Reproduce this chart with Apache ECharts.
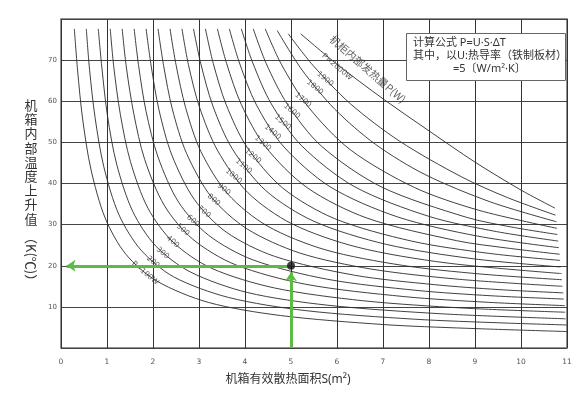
<!DOCTYPE html>
<html>
<head>
<meta charset="utf-8">
<script src="https://cdn.jsdelivr.net/npm/echarts@6/dist/echarts.min.js"></script>
<style>
  html, body { margin: 0; padding: 0; background: #fff; }
  #chart { width: 586px; height: 399px; }
</style>
</head>
<body>
<div id="chart"></div>
<script>
// 机柜内部发热量 P (W)，每条曲线读自原图 [S(m²), ΔT(K)]
const powers = [100, 200, 300, 400, 500, 600, 700, 800, 900, 1000,
                1100, 1200, 1300, 1400, 1500, 1600, 1700, 1800, 1900, 2000];

const p100 = [[0.29,77.6],[0.36,67.6],[0.47,55.7],[0.65,43.5],[0.96,31.6],[1.41,22.8],[2.08,16.3],[3.2,11.1],[4.77,7.9],[7.01,5.7],[8.8,4.8],[11,4.0]];
const p200 = [[0.55,77.6],[0.62,67.8],[0.74,56.1],[0.93,44.1],[1.26,32.4],[1.74,23.8],[2.45,17.3],[3.64,12.3],[5.31,9.1],[7.69,7.0],[9.59,6.1],[10.99,5.6]];
const p300 = [[0.81,77.6],[0.89,68.0],[1.01,56.5],[1.21,44.7],[1.56,33.2],[2.06,24.8],[2.81,18.5],[4.05,13.5],[5.8,10.4],[8.3,8.3],[10.97,7.1]];
const p400 = [[1.07,77.6],[1.15,68.1],[1.29,56.8],[1.51,45.3],[1.89,34.0],[2.44,25.7],[3.27,19.4],[4.64,14.6],[6.56,11.5],[8.76,9.7],[10.96,8.7]];
const p500 = [[1.33,77.6],[1.42,68.3],[1.58,57.1],[1.82,45.8],[2.25,34.6],[2.86,26.5],[3.78,20.3],[5.32,15.5],[7.46,12.5],[9.3,11.1],[10.95,10.3]];
const p600 = [[1.59,77.6],[1.69,68.4],[1.85,57.5],[2.11,46.4],[2.56,35.4],[3.21,27.4],[4.18,21.4],[5.8,16.7],[7.74,14.0],[9.35,12.7],[10.93,11.9]];
const p700 = [[1.85,77.6],[1.96,68.6],[2.13,57.9],[2.41,46.9],[2.9,36.1],[3.59,28.2],[4.64,22.3],[6.38,17.7],[8.12,15.4],[9.52,14.2],[10.92,13.4]];
const p800 = [[2.11,77.6],[2.23,68.7],[2.42,58.1],[2.73,47.3],[3.27,36.7],[4.04,29.0],[5.19,23.1],[6.74,19.2],[8.66,16.7],[10.9,15.0]];
const p900 = [[2.37,77.6],[2.5,68.9],[2.71,58.4],[3.04,47.8],[3.63,37.4],[4.48,29.7],[5.74,23.9],[7.42,20.1],[9.11,18.0],[10.89,16.6]];
const p1000 = [[2.63,77.6],[2.77,68.9],[3.01,58.6],[3.4,48.1],[4.06,37.8],[5.02,30.2],[6.45,24.5],[8.37,20.7],[10.88,18.1]];
const p1100 = [[2.88,77.6],[3.04,69.1],[3.3,58.9],[3.72,48.5],[4.45,38.3],[5.5,30.8],[7.07,25.2],[8.96,21.7],[10.86,19.7]];
const p1200 = [[3.14,77.6],[3.31,69.2],[3.59,59.2],[4.04,48.9],[4.82,38.9],[5.94,31.5],[7.62,26.0],[9.31,23.0],[10.85,21.3]];
const p1300 = [[3.4,77.6],[3.6,69.2],[3.92,59.2],[4.44,49.0],[5.35,39.0],[6.65,31.6],[8.6,26.1],[9.7,24.3],[10.84,22.8]];
const p1400 = [[3.66,77.6],[3.88,69.3],[4.24,59.3],[4.83,49.1],[5.85,39.2],[7.31,31.9],[9.06,27.2],[10.82,24.4]];
const p1500 = [[3.92,77.6],[4.17,69.3],[4.57,59.4],[5.23,49.2],[6.37,39.3],[8.0,32.0],[9.47,28.3],[10.81,26.0]];
const p1600 = [[4.18,77.6],[4.46,69.2],[4.92,59.3],[5.66,49.1],[6.96,39.2],[8.81,31.8],[9.8,29.4],[10.79,27.6]];
const p1700 = [[4.44,77.6],[4.79,69.0],[5.37,58.7],[6.29,48.2],[7.69,39.0],[9.08,33.5],[10.78,29.1]];
const p1800 = [[4.7,77.2],[5.24,67.6],[5.95,58.1],[6.84,49.5],[7.91,42.2],[9.34,35.5],[10.77,30.7]];
const p1900 = [[4.94,76.4],[5.48,68.7],[6.29,59.4],[7.36,50.3],[8.71,41.6],[9.7,36.6],[10.75,32.3]];
const p2000 = [[5.21,76.4],[6.0,69.0],[7.0,60.6],[8.0,52.8],[9.0,45.2],[10.0,38.4],[10.74,34.0]];

const curves = [p100, p200, p300, p400, p500, p600, p700, p800, p900, p1000,
                p1100, p1200, p1300, p1400, p1500, p1600, p1700, p1800, p1900, p2000];

// 曲线上的标注
const labelTexts = ['P=100W', '200', '300', '400', '500', '600', '700', '800', '900', '1000',
                    '1100', '1200', '1300', '1400', '1500', '1600', '1700', '1800', '1900', 'P=2000W'];
const labelPoints = [[1.83,18.2],[2.0,20.9],[2.21,23.1],[2.43,25.8],[2.65,28.7],[2.87,30.9],[3.11,33.1],[3.32,36.0],[3.54,38.6],[3.75,41.8],
                     [3.97,44.2],[4.17,46.7],[4.39,49.8],[4.6,52.5],[4.82,54.9],[5.02,57.6],[5.26,60.3],[5.52,63.4],[5.74,65.4],[6.0,68.3]];

// 查图示例：S=5 m² → ΔT=20 K
const examplePoint = [5, 20];

const xTicks = [0, 1, 2, 3, 4, 5, 6, 7, 8, 9, 10, 11];
const yTicks = [10, 20, 30, 40, 50, 60, 70];

const chart = echarts.init(document.getElementById('chart'));

const lineColor = '#2b2b2b';
const green = '#5cbb45';
const cjk = '"Noto Sans CJK SC", sans-serif';
const mixed = '"Noto Sans", "Noto Sans CJK SC", sans-serif';

const curveSeries = curves.map((pts, i) => ({
  name: powers[i] + 'W',
  type: 'line',
  data: pts,
  smooth: 0.3,
  symbol: 'none',
  silent: true,
  z: 2,
  lineStyle: {color: lineColor, width: 0.9}
}));

chart.setOption({
  animation: false,
  grid: {
    left: 61, right: 19, top: 19, bottom: 51,
    show: true, borderColor: '#6e6e6e', borderWidth: 1.5
  },
  xAxis: {
    type: 'value',
    min: xTicks[0], max: xTicks[xTicks.length - 1], interval: 1,
    axisLine: {show: false},
    axisTick: {show: false},
    splitLine: {show: true, lineStyle: {color: '#333', width: 1}},
    axisLabel: {
      color: '#555', fontSize: 7.5, margin: 10,
      fontFamily: '"DejaVu Sans", sans-serif'
    }
  },
  yAxis: {
    type: 'value',
    min: 0, max: 80, interval: 10,
    axisLine: {show: false},
    axisTick: {show: false},
    splitLine: {show: true, lineStyle: {color: '#444', width: 1}},
    axisLabel: {
      color: '#555', fontSize: 7, margin: 4,
      fontFamily: '"DejaVu Sans", sans-serif',
      formatter: v => (yTicks.indexOf(v) >= 0 ? String(v) : '')
    }
  },
  series: [
    ...curveSeries,
    {
      type: 'scatter',
      data: labelPoints,
      symbolSize: 0,
      silent: true,
      z: 3,
      label: {
        show: true,
        position: 'inside',
        rotate: -40,
        fontSize: 7.5,
        color: '#333',
        fontFamily: '"DejaVu Sans", sans-serif',
        formatter: p => labelTexts[p.dataIndex]
      }
    },
    {
      type: 'scatter',
      data: [[6.67, 67.8]],
      symbolSize: 0,
      silent: true,
      z: 3,
      label: {
        show: true,
        position: 'inside',
        rotate: -41,
        fontSize: 10.5,
        color: '#333',
        fontFamily: cjk,
        formatter: '机柜内部发热量P(W)'
      }
    },
    {
      type: 'line',
      data: [],
      silent: true,
      z: 5,
      markLine: {
        silent: true,
        symbol: ['none', 'arrow'],
        symbolSize: 9,
        label: {show: false},
        lineStyle: {color: green, width: 3, type: 'solid'},
        emphasis: {disabled: true},
        data: [
          [{coord: examplePoint}, {coord: [0.12, examplePoint[1]]}],
          [{coord: [examplePoint[0], 0]}, {coord: [examplePoint[0], 18.4]}]
        ]
      }
    },
    {
      type: 'scatter',
      data: [examplePoint],
      symbolSize: 8,
      silent: true,
      z: 6,
      itemStyle: {color: '#111'}
    }
  ],
  graphic: [
    {
      type: 'rect',
      shape: {x: 406.5, y: 33.5, width: 159, height: 47},
      style: {fill: '#fff', stroke: '#666', lineWidth: 1},
      z: 10
    },
    {
      type: 'text', x: 413, y: 43, z: 11,
      style: {text: '计算公式 P=U·S·ΔT', fill: '#333', font: '11px ' + mixed, verticalAlign: 'middle'}
    },
    {
      type: 'text', x: 413, y: 56, z: 11,
      style: {text: '其中，以U:热导率（铁制板材）', fill: '#333', font: '11px ' + mixed, verticalAlign: 'middle'}
    },
    {
      type: 'text', x: 453, y: 69, z: 11,
      style: {text: '=5〔W/m²·K〕', fill: '#333', font: '11px ' + mixed, verticalAlign: 'middle'}
    },
    {
      type: 'text', x: 31, y: 98, z: 11,
      style: {
        text: '机\n箱\n内\n部\n温\n度\n上\n升\n值',
        font: '13px ' + cjk, lineHeight: 14.2, fill: '#333',
        align: 'center', verticalAlign: 'top'
      }
    },
    {
      type: 'text', x: 31, y: 231, rotation: -Math.PI / 2, z: 11,
      style: {
        text: '（K(℃)）', font: '13px ' + cjk, fill: '#333',
        align: 'left', verticalAlign: 'middle'
      }
    },
    {
      type: 'text', x: 288, y: 380, z: 11,
      style: {
        text: '机箱有效散热面积S(m²)', font: '12px ' + mixed, fill: '#333',
        align: 'center', verticalAlign: 'middle'
      }
    }
  ]
});
</script>
</body>
</html>
